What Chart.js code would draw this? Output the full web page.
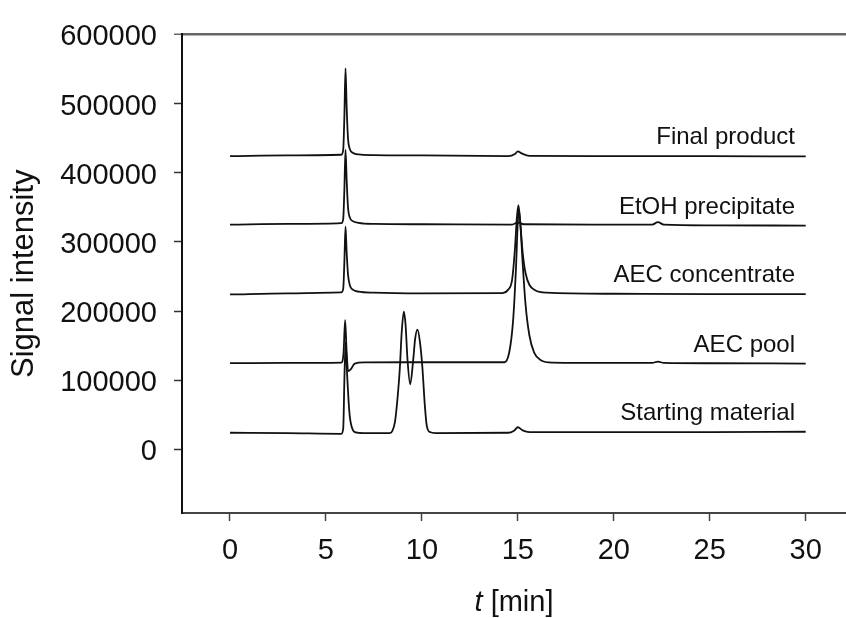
<!DOCTYPE html>
<html>
<head>
<meta charset="utf-8">
<script src="https://cdn.jsdelivr.net/npm/chart.js@4.4.1/dist/chart.umd.min.js"></script>
<style>
  html, body { margin: 0; padding: 0; background: #fff; }
  #wrap { width: 846px; height: 618px; position: relative; }
</style>
</head>
<body>
<div id="wrap"><canvas id="chart"></canvas></div>
<script>
// retention times [min] and signal values
const startT = [0, 3, 5.8, 5.9, 5.97, 6.03, 6.1, 6.18, 6.25, 6.35, 6.5, 7, 8.3, 8.45, 8.6, 8.75, 8.85, 8.95, 9.06, 9.15, 9.25, 9.39, 9.55, 9.65, 9.77, 9.9, 10.03, 10.15, 10.25, 10.42, 10.7, 14.5, 14.8, 15.0, 15.25, 15.6, 20, 25, 30];
const startV = [24000, 23500, 22500, 30000, 110000, 155000, 110000, 70000, 46000, 32000, 25000, 23500, 23500, 26000, 40000, 80000, 117000, 170000, 199000, 180000, 130000, 94000, 130000, 160000, 173000, 155000, 117000, 65000, 35000, 25000, 23500, 24000, 27000, 32000, 27500, 25000, 25000, 25000, 25500];

const poolT = [0, 3, 5.8, 5.92, 6.0, 6.08, 6.16, 6.3, 6.5, 7, 10, 14.3, 14.55, 14.75, 14.9, 15.0, 15.05, 15.12, 15.25, 15.4, 15.6, 15.85, 16.2, 16.8, 20, 22.0, 22.3, 22.6, 25, 30];
const poolV = [124700, 125000, 125500, 140000, 187000, 140000, 113000, 116000, 124000, 125800, 126000, 126000, 140000, 185000, 260000, 330000, 345000, 330000, 270000, 210000, 165000, 140000, 129000, 125500, 125000, 125000, 127000, 125000, 124500, 124000];

const concT = [0, 3, 5.8, 5.9, 5.96, 6.02, 6.08, 6.15, 6.25, 6.4, 6.7, 7.5, 10, 14.2, 14.5, 14.7, 14.85, 14.95, 15.03, 15.12, 15.25, 15.4, 15.6, 15.9, 16.5, 20, 25, 30];
const concV = [224000, 225500, 227000, 232000, 270000, 322000, 285000, 253000, 237000, 231000, 228000, 226500, 225500, 226000, 231000, 245000, 290000, 335000, 353000, 330000, 285000, 255000, 238000, 230000, 226500, 225000, 224500, 224500];

const etohT = [0, 3, 5.8, 5.9, 5.96, 6.02, 6.08, 6.15, 6.25, 6.4, 6.7, 7.5, 10, 14.7, 15.0, 15.3, 20, 22.0, 22.3, 22.6, 25, 30];
const etohV = [325000, 326000, 327000, 333000, 375000, 433000, 390000, 350000, 335000, 330000, 327500, 326000, 325500, 325000, 328000, 325500, 325000, 325000, 328500, 325000, 324000, 323500];

const finalT = [0, 3, 5.8, 5.9, 5.96, 6.02, 6.08, 6.15, 6.25, 6.4, 6.7, 7.5, 10, 14.5, 14.85, 15.0, 15.2, 15.6, 20, 25, 30];
const finalV = [424000, 425000, 426000, 433000, 480000, 551000, 495000, 450000, 434000, 429000, 426500, 425500, 425000, 424000, 427000, 431000, 428000, 424500, 424000, 424000, 423500];

const seriesNames = ["Starting material", "AEC pool", "AEC concentrate", "EtOH precipitate", "Final product"];
const seriesT = [startT, poolT, concT, etohT, finalT];
const seriesV = [startV, poolV, concV, etohV, finalV];

const xTicks = [0, 5, 10, 15, 20, 25, 30];
const yTicks = [0, 100000, 200000, 300000, 400000, 500000, 600000];

const FONT = "'Liberation Sans', Arial, sans-serif";

const datasets = seriesNames.map((name, i) => ({
  label: name,
  data: seriesT[i].map((t, j) => ({ x: t, y: seriesV[i][j] })),
  borderColor: "#111",
  borderWidth: 1.8,
  pointRadius: 0,
  fill: false,
  cubicInterpolationMode: "monotone"
}));

const textPlugin = {
  id: "traceText",
  afterDatasetsDraw(chart) {
    const { ctx, scales } = chart;
    ctx.save();
    ctx.fillStyle = "#111";
    ctx.font = "24px " + FONT;
    ctx.textAlign = "right";
    ctx.textBaseline = "alphabetic";
    seriesNames.forEach((name, i) => {
      const vals = seriesV[i];
      const y = scales.y.getPixelForValue(vals[vals.length - 1]) - 12;
      ctx.fillText(name, 795, y);
    });

    // x axis title with italic t
    const italic = "italic 29px " + FONT;
    const normal = "29px " + FONT;
    ctx.font = italic;
    const w1 = ctx.measureText("t").width;
    ctx.font = normal;
    const w2 = ctx.measureText(" [min]").width;
    const cx = (chart.chartArea.left + 846) / 2;
    let x = cx - (w1 + w2) / 2;
    ctx.textAlign = "left";
    ctx.textBaseline = "middle";
    ctx.font = italic;
    ctx.fillText("t", x, 603);
    ctx.font = normal;
    ctx.fillText(" [min]", x + w1, 603);
    ctx.restore();
  }
};

new Chart(document.getElementById("chart"), {
  type: "line",
  data: { datasets },
  options: {
    responsive: true,
    maintainAspectRatio: false,
    animation: false,
    layout: { padding: { top: 29, right: 0, left: 0, bottom: 0 } },
    plugins: {
      legend: { display: false },
      tooltip: { enabled: false }
    },
    scales: {
      x: {
        type: "linear",
        min: -2.5,
        max: 32.1,
        afterBuildTicks: (scale) => { scale.ticks = xTicks.map((v) => ({ value: v })); },
        afterFit: (scale) => { scale.height = 105; },
        border: { display: true, color: "#444", width: 2 },
        grid: { drawOnChartArea: false, tickLength: 8, tickColor: "#444", tickWidth: 1.5 },
        ticks: { color: "#111", font: { family: FONT, size: 29 }, padding: 13, maxRotation: 0, callback: (v) => String(v) }
      },
      y: {
        min: -92000,
        max: 600000,
        afterBuildTicks: (scale) => { scale.ticks = yTicks.map((v) => ({ value: v })); },
        afterFit: (scale) => { scale.width = 182; },
        border: { display: true, color: "#111", width: 2 },
        grid: {
          color: (c) => (c.tick && c.tick.value === 600000 ? "#666" : "rgba(0,0,0,0)"),
          lineWidth: (c) => (c.tick && c.tick.value === 600000 ? 2.5 : 1),
          tickLength: 8,
          tickColor: (c) => (c.tick && c.tick.value === 600000 ? "#666" : "#333"),
          tickWidth: 1.5
        },
        ticks: { color: "#111", font: { family: FONT, size: 29 }, padding: 17, labelOffset: 3, callback: (v) => String(v) },
        title: {
          display: true,
          text: "Signal intensity",
          color: "#111",
          font: { family: FONT, size: 31, lineHeight: 1.2 },
          padding: { top: 6, bottom: 0 }
        }
      }
    }
  },
  plugins: [textPlugin]
});
</script>
</body>
</html>
